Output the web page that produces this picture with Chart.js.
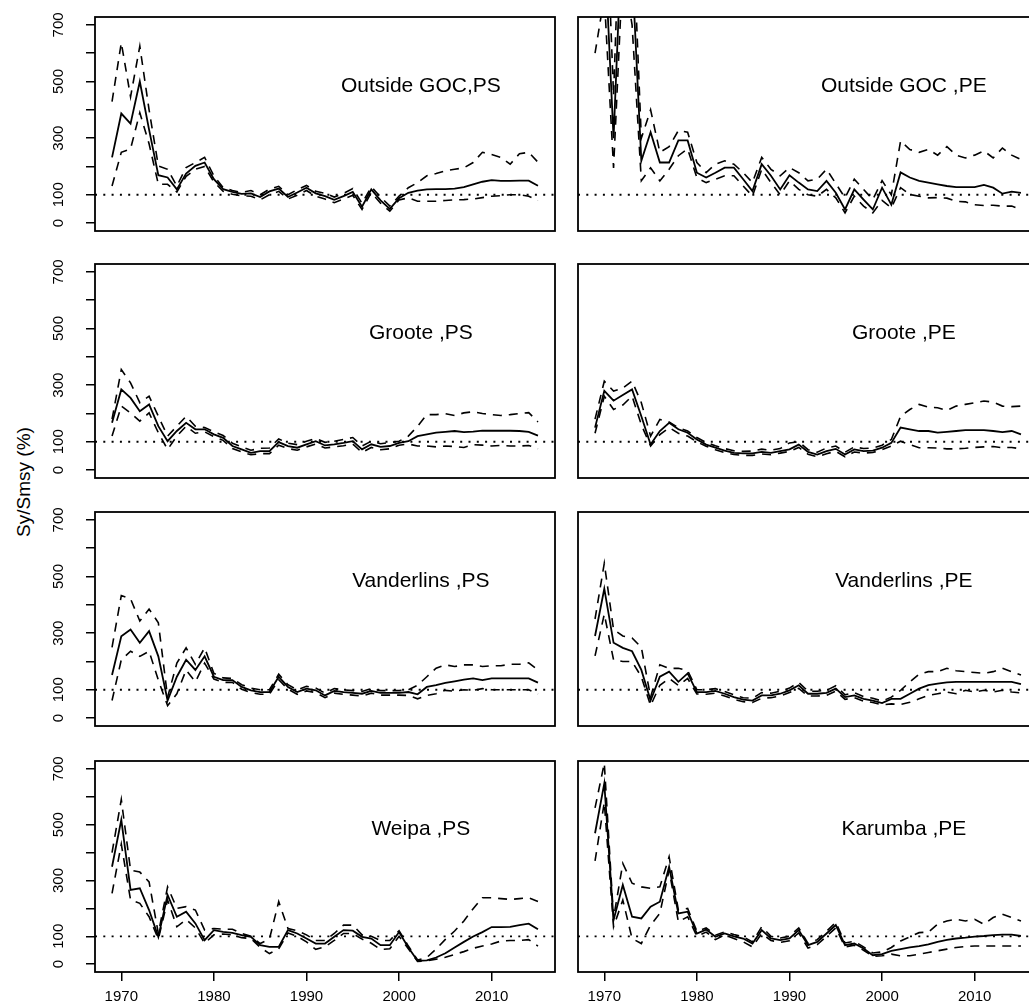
<!DOCTYPE html>
<html>
<head>
<meta charset="utf-8">
<script src="https://cdn.jsdelivr.net/npm/chart.js@4.4.1/dist/chart.umd.min.js"></script>
<style>
html,body{margin:0;padding:0;background:#fff;overflow:hidden;}
#wrap{position:relative;width:1029px;height:1007px;overflow:hidden;background:#fff;}
#wrap canvas{position:absolute;}
.ttl{position:absolute;font-family:"Liberation Sans",Arial,Helvetica,sans-serif;font-size:21px;line-height:1;color:#000;white-space:pre;transform:translate(-50%,-50%);}
#ylab{position:absolute;left:23px;top:482px;font-family:"Liberation Sans",Arial,Helvetica,sans-serif;font-size:19px;line-height:1;color:#000;white-space:nowrap;transform:translate(-50%,-50%) rotate(-90deg);}
</style>
</head>
<body>
<div id="wrap"><div id="ylab">Sy/Smsy (%)</div></div>
<script>
// ---------------- data ----------------
const years = [1969,1970,1971,1972,1973,1974,1975,1976,1977,1978,1979,1980,1981,1982,1983,1984,1985,1986,1987,1988,1989,1990,1991,1992,1993,1994,1995,1996,1997,1998,1999,2000,2001,2002,2003,2004,2005,2006,2007,2008,2009,2010,2011,2012,2013,2014,2015];
const xTickLabels = [1970,1980,1990,2000,2010];
const yTickLabels = [0,100,300,500,700];
const refValue = 100;

const goPS_mid = [232,387,351,500,330,169,161,119,175,202, 214,155,120,110,103,105,92,112,122,92, 108,125,105,95,82,95,110,58,119,80, 50,88,107,115,119,120,120,122,127,137, 146,152,149,149,150,150,132];
const goPS_hi  = [429,637,446,625,400,202,190,131,196,214, 232,167,125,115,108,115,100,120,130,100, 118,133,112,105,92,105,122,70,128,92, 60,95,125,143,167,175,185,190,195,214, 250,242,232,208,245,250,215];
const goPS_lo  = [131,250,262,390,280,137,137,110,165,190, 200,145,112,102,96,95,82,100,112,85, 98,115,95,85,72,85,98,48,108,70, 42,82,89,77,77,77,80,82,83,85, 90,95,97,100,100,95,80];

const goPE_mid = [900,1000,300,1100,900,220,321,214,214,292, 292,178,161,178,196,196,155,113,208,167, 119,169,143,119,113,149,107,48,119,83, 48,125,65,179,161,149,143,137,131,127, 127,127,135,125,104,111,107];
const goPE_hi  = [1200,1300,450,1400,1100,300,400,250,270,327, 321,214,178,208,220,208,178,143,232,190, 167,196,178,149,155,190,140,89,155,119, 83,150,100,290,260,250,260,240,270,240, 230,240,255,230,265,240,225];
const goPE_lo  = [600,800,195,900,700,150,195,149,190,238, 262,160,143,155,167,167,131,95,190,143, 100,149,119,100,95,119,89,36,95,60, 36,80,54,125,101,95,89,90,88,77, 75,65,62,63,60,60,48];

const grPS_mid = [167,285,255,208,232,155,102,138,167,144, 144,126,114,85,73,61,67,67,99,85, 79,91,102,87,91,96,102,73,91,82, 85,96,102,120,126,132,135,138,134,136, 139,139,139,139,138,135,122];
const grPS_hi  = [180,355,308,238,261,190,120,155,190,155, 150,135,122,95,82,70,77,78,110,95, 90,102,112,98,102,108,115,85,102,93, 97,102,120,155,196,196,199,193,202,206, 200,196,193,196,200,203,170];
const grPS_lo  = [120,226,202,173,202,132,73,120,155,130, 135,118,105,76,64,54,58,58,88,76, 70,82,92,78,82,86,92,62,80,72, 75,88,92,85,85,82,85,83,80,90, 88,85,87,85,85,87,75];

const grPE_mid = [150,280,245,265,285,190,90,138,167,144, 132,108,90,79,69,61,59,59,64,61, 67,73,90,64,55,67,75,55,73,67, 69,79,96,150,144,138,138,132,135,138, 141,141,141,138,134,138,126];
const grPE_hi  = [180,314,279,290,314,238,120,179,170,150, 138,115,97,86,76,68,66,67,74,70, 76,96,100,72,63,78,85,63,82,76, 78,88,108,190,214,232,222,220,211,226, 232,238,244,240,226,224,226];
const grPE_lo  = [130,261,214,230,261,160,85,125,150,130, 120,100,84,72,62,55,52,52,57,54, 60,66,80,56,47,58,66,47,64,60, 62,72,85,102,90,79,79,78,75,75, 77,80,82,83,79,80,75];

const vaPS_mid = [152,289,313,266,307,218,62,146,206,170, 218,146,134,134,110,98,92,92,146,110, 92,104,98,80,96,92,89,86,96,89, 89,89,92,84,110,116,124,130,136,140, 134,140,140,140,140,140,125];
const vaPS_hi  = [250,433,421,343,385,337,74,194,248,190, 248,158,142,140,118,106,100,100,155,118, 100,112,106,88,104,100,97,94,104,97, 97,97,100,116,146,176,188,182,188,188, 182,185,185,190,190,195,170];
const vaPS_lo  = [62,206,236,218,236,134,44,86,170,128, 194,138,126,126,102,90,84,84,136,102, 84,96,90,72,88,84,81,78,88,81, 81,81,80,68,80,86,98,95,100,98, 104,100,100,100,100,100,85];

const vaPE_mid = [290,457,266,248,236,170,62,146,164,128, 158,92,92,96,86,74,65,62,80,80, 86,98,116,86,86,89,104,74,80,68, 62,53,68,68,86,104,116,122,126,128, 128,128,128,128,128,128,120];
const vaPE_hi  = [350,547,313,290,283,250,74,188,175,176, 168,100,100,104,94,82,72,70,90,88, 95,106,126,95,95,98,114,82,90,76, 70,60,74,98,128,155,164,164,176,167, 164,161,158,164,176,164,152];
const vaPE_lo  = [220,367,206,200,200,146,44,116,140,115, 140,85,84,88,78,66,58,55,70,72, 78,90,105,78,78,80,95,66,72,60, 55,47,50,48,56,68,80,86,92,86, 98,92,98,92,98,92,89];

const wePS_mid = [349,517,266,272,194,98,248,170,188,146, 86,122,116,112,104,98,68,62,62,122, 110,92,74,74,98,122,120,98,92,68, 68,115,60,12,14,24,39,60,80,99, 115,133,133,134,140,145,125];
const wePS_hi  = [400,590,337,330,295,110,277,200,206,194, 122,128,125,125,110,100,74,90,224,128, 120,105,85,85,110,140,140,105,100,85, 85,120,65,15,24,54,89,119,155,199, 238,238,235,232,235,238,225];
const wePS_lo  = [254,430,230,218,170,90,230,134,160,130, 75,105,108,105,95,92,60,38,55,112, 100,80,53,62,85,110,110,90,75,53, 55,100,55,10,12,18,25,35,45,57, 65,72,83,85,85,88,65];

const kaPE_mid = [469,648,158,284,170,164,206,224,349,182, 188,110,124,98,110,100,92,74,122,92, 86,92,122,68,80,110,140,68,74,56, 32,36,48,54,60,65,71,80,87,92, 95,99,101,104,106,106,101];
const kaPE_hi  = [560,720,165,361,290,277,272,277,385,194, 200,118,130,104,116,106,98,80,134,100, 94,100,130,74,88,118,150,76,82,62, 40,44,60,83,98,113,115,143,155,161, 155,161,143,167,179,167,155];
const kaPE_lo  = [370,580,134,230,92,74,140,182,337,152, 170,100,115,88,105,92,80,62,110,85, 78,84,112,58,70,100,130,62,68,50, 28,30,36,30,30,36,42,48,54,60, 63,65,65,65,65,65,65];

const panels = [
  {title:'Outside GOC,PS',  mid:goPS_mid, hi:goPS_hi, lo:goPS_lo, col:0, row:0},
  {title:'Outside GOC ,PE', mid:goPE_mid, hi:goPE_hi, lo:goPE_lo, col:1, row:0},
  {title:'Groote ,PS',      mid:grPS_mid, hi:grPS_hi, lo:grPS_lo, col:0, row:1},
  {title:'Groote ,PE',      mid:grPE_mid, hi:grPE_hi, lo:grPE_lo, col:1, row:1},
  {title:'Vanderlins ,PS',  mid:vaPS_mid, hi:vaPS_hi, lo:vaPS_lo, col:0, row:2},
  {title:'Vanderlins ,PE',  mid:vaPE_mid, hi:vaPE_hi, lo:vaPE_lo, col:1, row:2},
  {title:'Weipa ,PS',       mid:wePS_mid, hi:wePS_hi, lo:wePS_lo, col:0, row:3},
  {title:'Karumba ,PE',     mid:kaPE_mid, hi:kaPE_hi, lo:kaPE_lo, col:1, row:3}
];

// ---------------- layout / style ----------------
const FONT = '"Liberation Sans", Arial, Helvetica, sans-serif';
const xMin = 1967.16, xMax = 2016.84, yMin = -28, yMax = 728;
const titleX = 2002.35, titleY = 490;
const colLeft = [0, 560], colWidth = [557, 480];
const colPad = [{left:0, right:2}, {left:18, right:2}];
const rowTop = [0, 247, 495, 744], rowHeight = [240, 240, 240, 263];

const xy = arr => years.map((yr, i) => ({x: yr, y: arr[i]}));

const boxPlugin = {
  id: 'box',
  afterDatasetsDraw(chart) {
    const {ctx, chartArea: a} = chart;
    ctx.save();
    ctx.strokeStyle = '#000';
    ctx.lineWidth = 1.8;
    ctx.strokeRect(a.left, a.top, a.right - a.left, a.bottom - a.top);
    ctx.restore();
  }
};

const wrap = document.getElementById('wrap');

panels.forEach(p => {
  const L = colLeft[p.col], T = rowTop[p.row], W = colWidth[p.col], H = rowHeight[p.row];
  const isLeft = p.col === 0, isBottom = p.row === 3;
  const cv = document.createElement('canvas');
  cv.width = W; cv.height = H;
  cv.style.left = L + 'px'; cv.style.top = T + 'px';
  cv.style.width = W + 'px'; cv.style.height = H + 'px';
  wrap.appendChild(cv);

  const xScale = {
    type: 'linear', min: xMin, max: xMax, display: isBottom,
    ticks: {
      stepSize: 10, includeBounds: false, autoSkip: false, minRotation: 0, maxRotation: 0,
      padding: 7, color: '#000', font: {family: FONT, size: 15},
      callback: v => xTickLabels.includes(v) ? String(v) : ''
    },
    grid: {drawOnChartArea: false, drawTicks: true, tickLength: 9, color: '#000', lineWidth: 1.5},
    border: {display: false}
  };
  if (isBottom) xScale.afterFit = s => { s.height = 35; s.paddingLeft = 0; s.paddingRight = 0; };

  const yScale = {
    type: 'linear', min: yMin, max: yMax, display: isLeft,
    ticks: {
      stepSize: 100, includeBounds: false, autoSkip: false, minRotation: 90, maxRotation: 90,
      crossAlign: 'center', padding: 15, color: '#000', font: {family: FONT, size: 15},
      callback: v => yTickLabels.includes(v) ? String(v) : ''
    },
    grid: {drawOnChartArea: false, drawTicks: true, tickLength: 9, color: '#000', lineWidth: 1.5},
    border: {display: false}
  };
  if (isLeft) yScale.afterFit = s => { s.width = 95; s.paddingTop = 0; s.paddingBottom = 0; };

  const chart = new Chart(cv.getContext('2d'), {
    type: 'line',
    data: {
      datasets: [
        {data: xy(p.mid), borderColor: '#000', borderWidth: 1.8},
        {data: xy(p.hi), borderColor: '#000', borderWidth: 1.6, borderDash: [9, 7]},
        {data: xy(p.lo), borderColor: '#000', borderWidth: 1.6, borderDash: [9, 7]},
        {data: [{x: xMin, y: refValue}, {x: xMax, y: refValue}], borderColor: '#000', borderWidth: 1.8, borderDash: [2, 6.3]}
      ]
    },
    options: {
      responsive: false, animation: false, devicePixelRatio: 1,
      layout: {padding: {top: 17, bottom: isBottom ? 0 : 9, left: colPad[p.col].left, right: colPad[p.col].right}},
      elements: {point: {radius: 0}, line: {tension: 0, fill: false}},
      plugins: {legend: {display: false}, tooltip: {enabled: false}, title: {display: false}},
      scales: {x: xScale, y: yScale}
    },
    plugins: [boxPlugin]
  });

  const d = document.createElement('div');
  d.className = 'ttl';
  d.textContent = p.title;
  d.style.left = (L + chart.scales.x.getPixelForValue(titleX)) + 'px';
  d.style.top = (T + chart.scales.y.getPixelForValue(titleY)) + 'px';
  wrap.appendChild(d);
});
</script>
</body>
</html>
